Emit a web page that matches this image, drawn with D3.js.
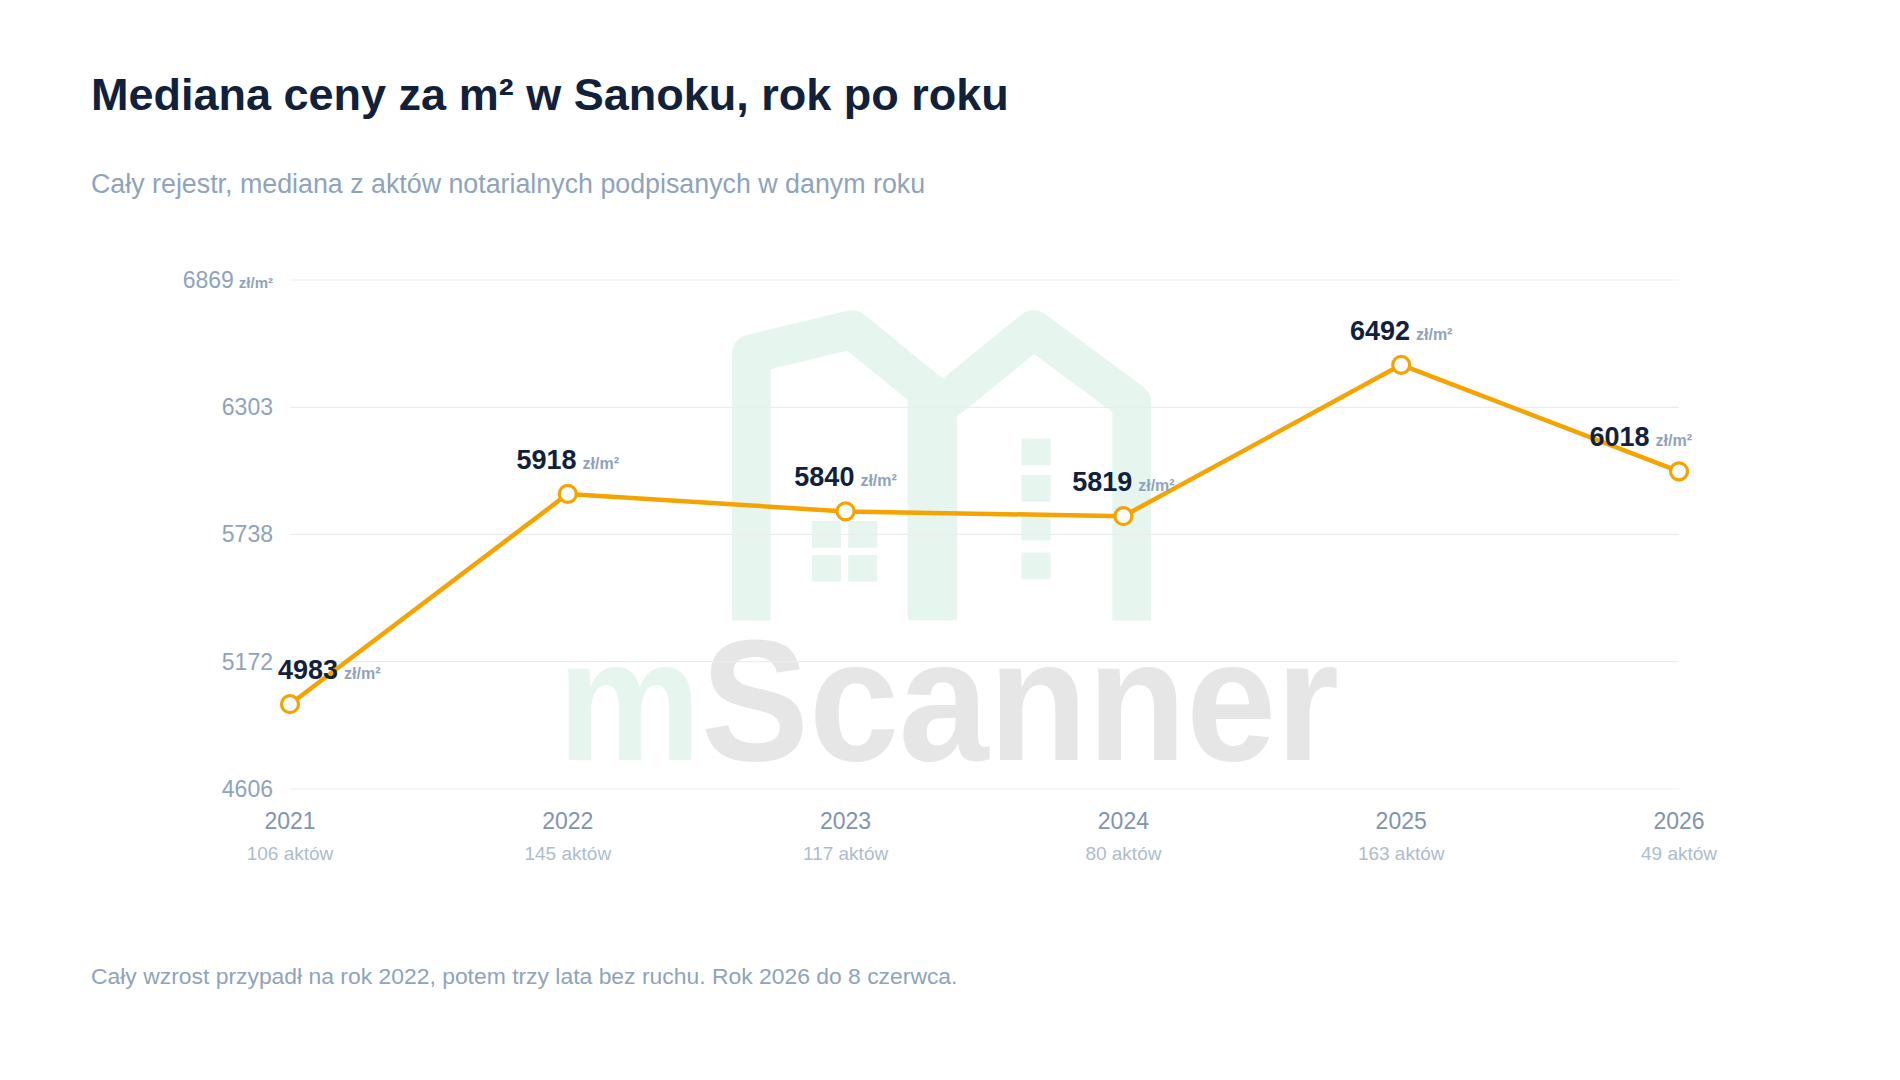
<!DOCTYPE html>
<html>
<head>
<meta charset="utf-8">
<script src="https://cdn.jsdelivr.net/npm/d3@7"></script>
<style>
  body { margin: 0; background: #fff; font-family: "Liberation Sans", Arial, sans-serif; }
</style>
</head>
<body>
<svg id="chart" width="1900" height="1080"></svg>
<script>
// data
const years = ["2021", "2022", "2023", "2024", "2025", "2026"];
const medians = [4983, 5918, 5840, 5819, 6492, 6018];
const deeds = ["106 aktów", "145 aktów", "117 aktów", "80 aktów", "163 aktów", "49 aktów"];
const yTicks = [4606, 5172, 5738, 6303, 6869];

const svg = d3.select("#chart");
const margin = {top: 280, right: 221, bottom: 291, left: 290},
  width = 1900 - margin.left - margin.right,
  height = 1080 - margin.top - margin.bottom;

// title + subtitle + footer
svg.append("text").attr("x", 91).attr("y", 110)
  .attr("font-size", 45).attr("font-weight", "bold").attr("fill", "#12213a")
  .text("Mediana ceny za m² w Sanoku, rok po roku");
svg.append("text").attr("x", 91).attr("y", 193)
  .attr("font-size", 26.8).attr("fill", "#8fa3bb")
  .text("Cały rejestr, mediana z aktów notarialnych podpisanych w danym roku");
svg.append("text").attr("x", 91).attr("y", 984)
  .attr("font-size", 22.9).attr("fill", "#8fa3bb")
  .text("Cały wzrost przypadł na rok 2022, potem trzy lata bez ruchu. Rok 2026 do 8 czerwca.");

// watermark
const wm = svg.append("g").attr("transform", "scale(1.2117)");
wm.append("path")
  .attr("d", "M620,512 V292 L703,272 L778,333 L853,272 L934,332 V512")
  .attr("fill", "none").attr("stroke", "#e6f6ef").attr("stroke-width", 32)
  .attr("stroke-linejoin", "round");
wm.append("rect").attr("x", 749).attr("y", 330).attr("width", 41).attr("height", 182).attr("fill", "#e6f6ef");
[[670, 430], [700, 430], [670, 458], [700, 458], [843, 362], [843, 392], [843, 424], [843, 456]].forEach(p => {
  wm.append("rect").attr("x", p[0]).attr("y", p[1]).attr("width", 24).attr("height", 22).attr("fill", "#e6f6ef");
});
const wt = wm.append("text").attr("x", 460).attr("y", 627)
  .attr("font-size", 142).attr("font-weight", "bold")
  .attr("textLength", 645).attr("lengthAdjust", "spacingAndGlyphs");
wt.append("tspan").attr("fill", "#e6f6ef").text("m");
wt.append("tspan").attr("fill", "#e6e6e6").text("Scanner");

const g = svg.append("g").attr("transform", `translate(${margin.left},${margin.top})`);

const x = d3.scalePoint().domain(years).range([0, width]);
const y = d3.scaleLinear().domain([4606, 6869]).range([height, 0]);

// grid
g.selectAll(".grid").data(yTicks).join("line")
  .attr("x1", 0).attr("x2", width)
  .attr("y1", d => y(d)).attr("y2", d => y(d))
  .attr("stroke", "#e9edf2").attr("stroke-width", 1.2);

// y labels
yTicks.forEach((t, i) => {
  const tx = g.append("text").attr("x", -17).attr("y", y(t) + 8)
    .attr("text-anchor", "end").attr("fill", "#8fa3bb").attr("font-size", 23);
  tx.append("tspan").text(t);
  if (i === yTicks.length - 1) {
    tx.append("tspan").attr("font-size", 15).attr("font-weight", "bold").attr("dx", 5).text("zł/m²");
  }
});

// x labels
g.selectAll(".yr").data(years).join("text")
  .attr("x", d => x(d)).attr("y", height + 40)
  .attr("text-anchor", "middle").attr("fill", "#8094ad").attr("font-size", 23)
  .text(d => d);
g.selectAll(".dl").data(deeds).join("text")
  .attr("x", (d, i) => x(years[i])).attr("y", height + 71)
  .attr("text-anchor", "middle").attr("fill", "#aebccc").attr("font-size", 19)
  .text(d => d);

// line
const line = d3.line().x((d, i) => x(years[i])).y(d => y(d));
g.append("path").datum(medians).attr("d", line)
  .attr("fill", "none").attr("stroke", "#f5a300").attr("stroke-width", 4.5)
  .attr("stroke-linejoin", "round");
g.selectAll(".pt").data(medians).join("circle")
  .attr("cx", (d, i) => x(years[i])).attr("cy", d => y(d)).attr("r", 8.5)
  .attr("fill", "#fff").attr("stroke", "#f5a300").attr("stroke-width", 3.2);

// value labels
medians.forEach((v, i) => {
  const last = i === medians.length - 1, first = i === 0;
  const lx = x(years[i]) + (first ? -12 : last ? 13 : 0);
  const lb = g.append("text").attr("x", lx).attr("y", y(v) - 25)
    .attr("text-anchor", first ? "start" : last ? "end" : "middle");
  lb.append("tspan").attr("font-size", 27).attr("font-weight", "bold").attr("fill", "#12213a").text(v);
  lb.append("tspan").attr("font-size", 16).attr("font-weight", "bold").attr("fill", "#8fa3bb").attr("dx", 6).text("zł/m²");
});
</script>
</body>
</html>
